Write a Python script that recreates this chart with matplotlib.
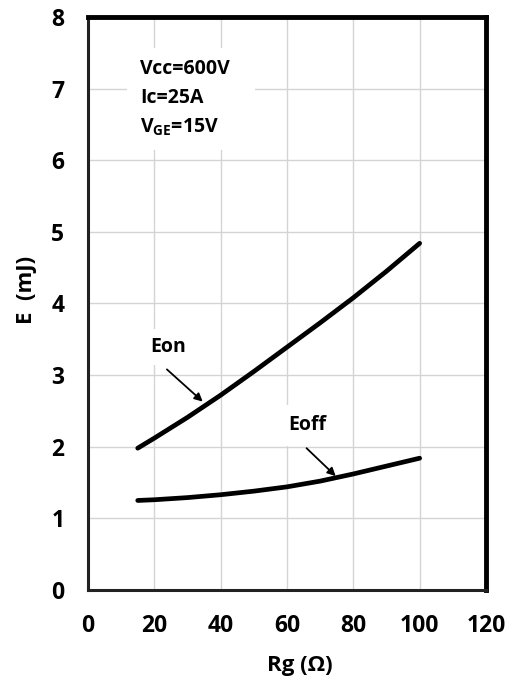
import matplotlib
matplotlib.use("Agg")
import matplotlib.pyplot as plt
from matplotlib.patches import Rectangle

# Data
rg = [15, 20, 30, 40, 50, 60, 70, 80, 90, 100]
eon = [1.98, 2.12, 2.41, 2.72, 3.05, 3.39, 3.73, 4.08, 4.45, 4.84]
eoff = [1.25, 1.26, 1.29, 1.33, 1.38, 1.44, 1.52, 1.62, 1.73, 1.84]

x_ticks = [0, 20, 40, 60, 80, 100, 120]
y_ticks = [0, 1, 2, 3, 4, 5, 6, 7, 8]
cond_lines = ["Vcc=600V", "Ic=25A", r"V$_{\rm GE}$=15V"]

plt.rcParams.update({
    'font.family': ['Open Sans', 'DejaVu Sans'],
    'font.weight': 'bold',
    'mathtext.fontset': 'custom',
    'mathtext.rm': 'Open Sans:bold',
    'mathtext.it': 'Open Sans:bold',
    'mathtext.bf': 'Open Sans:bold',
})

fig = plt.figure(figsize=(5.16, 6.82), dpi=100)
ax = fig.add_axes([0.1705, 0.1349, 0.7713, 0.8402])

ax.plot(rg, eon, color='black', linewidth=3.4, solid_capstyle='round', zorder=3)
ax.plot(rg, eoff, color='black', linewidth=3.4, solid_capstyle='round', zorder=3)

ax.set_xlim(0, 120)
ax.set_ylim(0, 8)
ax.set_xticks(x_ticks)
ax.set_yticks(y_ticks)
ax.tick_params(length=0, labelsize=16.5, pad=17)
for lab in ax.get_xticklabels() + ax.get_yticklabels():
    lab.set_fontweight('bold')

ax.set_axisbelow(True)
ax.grid(True, color='#d4d4d4', linewidth=1.0)

for side in ['top', 'right']:
    ax.spines[side].set_linewidth(3.5)
    ax.spines[side].set_color('black')
for side in ['left', 'bottom']:
    ax.spines[side].set_linewidth(2.2)
    ax.spines[side].set_color('#222222')

ax.set_xlabel("Rg (Ω)", fontsize=16, fontweight='bold')
ax.set_ylabel("E  (mJ)", fontsize=16, fontweight='bold')
ax.xaxis.set_label_coords(0.533, -0.113)
ax.yaxis.set_label_coords(-0.128, 0.524)

# condition box
ax.add_patch(Rectangle((11.8, 6.14), 38.5, 1.43, facecolor='white',
                       edgecolor='none', zorder=1))
for i, line in enumerate(cond_lines):
    ax.text(15.7, 7.28 - 0.41 * i, line, fontsize=14, fontweight='bold',
            ha='left', va='center', zorder=2)

# curve labels (text and arrow drawn separately)
ax.text(24.1, 3.39, "Eon", fontsize=14, fontweight='bold', ha='center',
        va='center', zorder=4,
        bbox=dict(boxstyle='square,pad=0.4', fc='white', ec='none'))
ax.annotate("", xy=(34.6, 2.63), xytext=(23.8, 3.08), zorder=4,
            arrowprops=dict(arrowstyle='-|>', color='black', lw=1.3,
                            mutation_scale=12, shrinkA=0, shrinkB=0))
ax.text(66.2, 2.30, "Eoff", fontsize=14, fontweight='bold', ha='center',
        va='center', zorder=4,
        bbox=dict(boxstyle='square,pad=0.55', fc='white', ec='none'))
ax.annotate("", xy=(74.7, 1.59), xytext=(65.9, 1.98), zorder=4,
            arrowprops=dict(arrowstyle='-|>', color='black', lw=1.3,
                            mutation_scale=12, shrinkA=0, shrinkB=0))

fig.savefig("out.png", dpi=100)
